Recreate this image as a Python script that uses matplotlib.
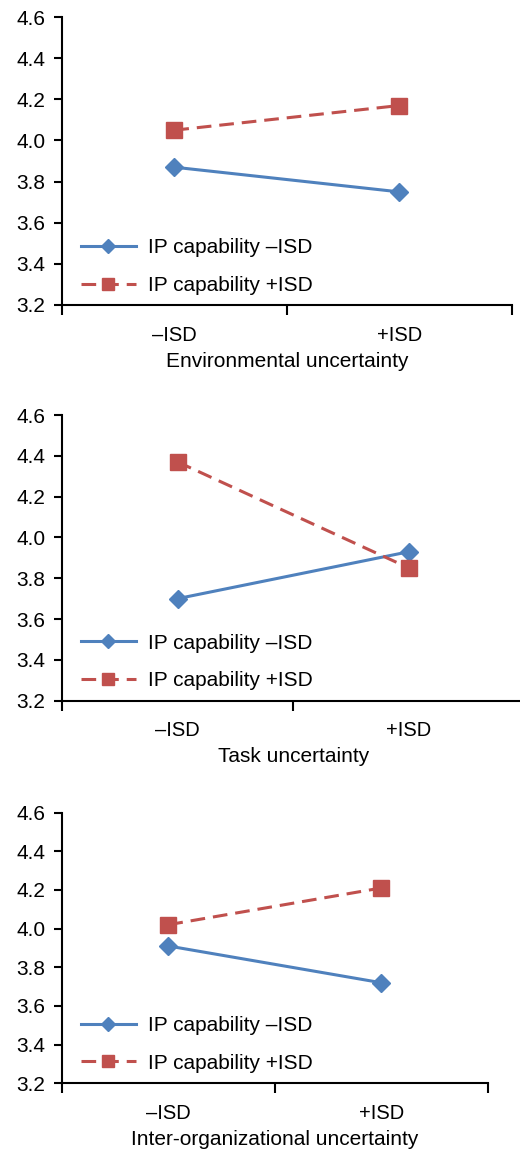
import matplotlib.pyplot as plt
from matplotlib.ticker import FixedLocator, NullFormatter

plt.rcParams['font.family'] = ['Liberation Sans', 'DejaVu Sans']

categories = ['\u2013ISD', '+ISD']
series_labels = ['IP capability \u2013ISD', 'IP capability +ISD']
panel_titles = ['Environmental uncertainty', 'Task uncertainty',
                'Inter-organizational uncertainty']

# values per panel: low IP capability (blue), high IP capability (red)
env_low = [3.87, 3.75]
env_high = [4.05, 4.17]
task_low = [3.70, 3.93]
task_high = [4.37, 3.85]
inter_low = [3.91, 3.72]
inter_high = [4.02, 4.21]

y_ticks = [3.2, 3.4, 3.6, 3.8, 4.0, 4.2, 4.4, 4.6]

blue = '#4F81BD'
red = '#C0504D'

fig = plt.figure(figsize=(5.2, 11.56), dpi=100)

# axes rectangles (left, bottom, width, height) in figure fractions
rects = [
    (0.119, 0.7362, 0.865, 0.249),
    (0.119, 0.3939, 0.890, 0.2471),
    (0.119, 0.0629, 0.819, 0.2342),
]
panels = [(env_low, env_high), (task_low, task_high), (inter_low, inter_high)]

for rect, (low, high), title in zip(rects, panels, panel_titles):
    ax = fig.add_axes(rect)
    x = range(len(categories))
    ax.plot(x, low, color=blue, lw=2.2, marker='D', ms=9,
            label=series_labels[0])
    ax.plot(x, high, color=red, lw=2.2, ls=(0, (4.8, 2.6)), marker='s',
            ms=11.5, label=series_labels[1])

    ax.set_xlim(-0.5, 1.5)
    ax.set_ylim(3.2, 4.6)
    ax.set_yticks(y_ticks)
    ax.set_yticklabels(['%.1f' % v for v in y_ticks])

    ax.xaxis.set_major_locator(FixedLocator([-0.5, 0.5, 1.5]))
    ax.xaxis.set_major_formatter(NullFormatter())
    ax.xaxis.set_minor_locator(FixedLocator(list(x)))
    ax.set_xticklabels(categories, minor=True)
    ax.tick_params(axis='x', which='major', direction='out', length=7,
                   width=1.5)
    ax.tick_params(axis='x', which='minor', length=0, pad=15, labelsize=14.5)
    ax.tick_params(axis='y', direction='out', length=6, width=1.5, pad=6,
                   labelsize=15)

    for side in ['top', 'right']:
        ax.spines[side].set_visible(False)
    for side in ['left', 'bottom']:
        ax.spines[side].set_linewidth(1.5)

    ax.set_xlabel(title, fontsize=15, labelpad=5)

    ax.legend(loc='lower left', bbox_to_anchor=(0.0, -0.03), frameon=False,
              fontsize=15, handlelength=2.65, handletextpad=0.6,
              labelspacing=0.9, markerscale=0.75)

plt.savefig('out.png', dpi=100)
